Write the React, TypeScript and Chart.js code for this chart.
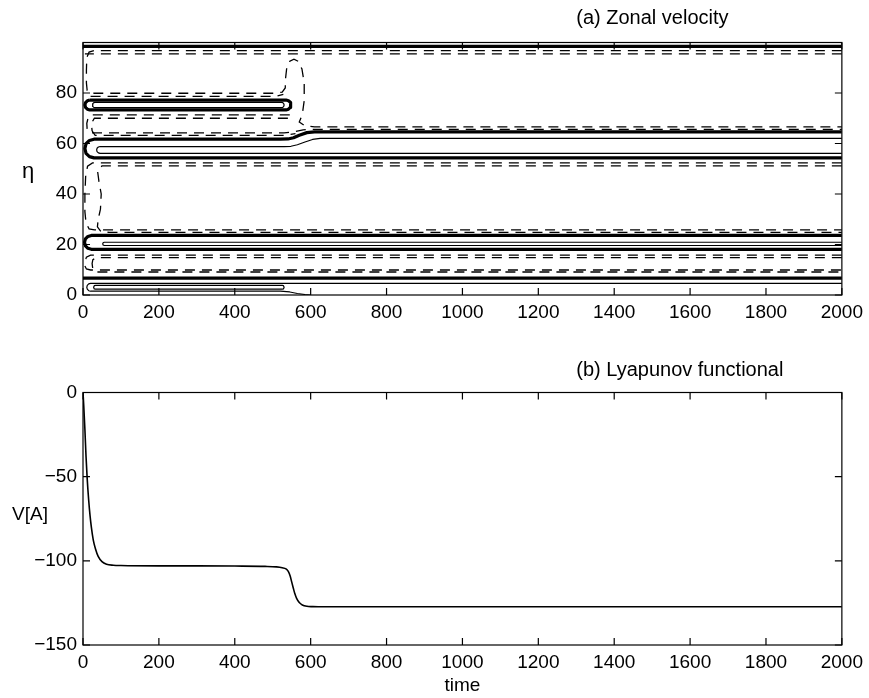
import React, { useEffect, useRef } from "react";
import { Chart, registerables } from "chart.js";

Chart.register(...registerables);

const FONT = '"Liberation Sans", Arial, Helvetica, sans-serif';

// ---------- axis settings ----------
const timeMin = 0;
const timeMax = 2000;
const timeStep = 200;
const etaMin = 0;
const etaMax = 100;
const etaStep = 20;
const etaLastLabel = 80;
const lyapMin = -150;
const lyapMax = 0;
const lyapStep = 50;

// ---------- panel (a): contour lines of zonal velocity, [time, eta] ----------
// thick solid contours
const thickTop = [[0, 98.5], [2000, 98.5]];
const thickLoop75 = [
  [18, 77.2], [11.5, 76.9], [6.7, 76.2], [5, 75.25], [6.7, 74.3], [11.5, 73.6], [18, 73.3],
  [535, 73.3], [541.5, 73.6], [546.3, 74.3], [548, 75.25], [546.3, 76.2], [541.5, 76.9], [535, 77.2], [18, 77.2],
];
const thickU60 = [
  [2000, 64.6], [610, 64.6], [590, 64.3], [570, 63.3], [555, 62.3], [540, 61.8], [520, 61.7],
  [29, 61.7], [17, 61.2], [8, 59.9], [5, 58], [8, 56.1], [17, 54.8], [29, 54.3], [2000, 54.3],
];
const thickU20 = [
  [2000, 23.6], [22, 23.6], [13, 23.2], [6.4, 22.2], [4, 20.85], [6.4, 19.5], [13, 18.5], [22, 18.1], [2000, 18.1],
];
const thickBottom = [[0, 6.7], [2000, 6.7]];

// thin solid contours
const thinLoop75 = [
  [32, 76.3], [28.5, 76.2], [26, 75.8], [25, 75.25], [26, 74.7], [28.5, 74.3], [32, 74.2],
  [523, 74.2], [526.5, 74.3], [529, 74.7], [530, 75.25], [529, 75.8], [526.5, 76.2], [523, 76.3], [32, 76.3],
];
const thinU60 = [
  [2000, 62.0], [625, 62.0], [605, 61.6], [585, 60.6], [565, 59.5], [548, 58.9], [530, 58.8],
  [45, 58.8], [40.5, 58.6], [37, 58.1], [36, 57.45], [37, 56.8], [40.5, 56.3], [45, 56.1], [2000, 56.1],
];
const thinU20 = [[2000, 20.9], [56, 20.9], [53, 20.7], [52, 20.25], [53, 19.8], [56, 19.6], [2000, 19.6]];
const thinBottomOuter = [
  [2000, 4.6], [20, 4.6], [15, 4.4], [11.3, 3.8], [10, 3.05], [11.3, 2.3], [15, 1.7], [20, 1.5],
  [520, 1.5], [545, 1.2], [565, 0.6], [585, 0.2], [600, 0],
];
const thinBottomInner = [
  [33, 3.8], [29.7, 3.7], [28, 3.05], [29.7, 2.4], [33, 2.3], [525, 2.3], [528.3, 2.4], [530, 3.05],
  [528.3, 3.7], [525, 3.8], [33, 3.8],
];

// dashed contours
const dashA = [
  [2000, 96.8], [30, 96.8], [16, 96.2], [10, 94], [9, 89], [9, 84], [11, 81], [18, 80], [30, 79.9],
  [500, 79.9], [525, 80.3], [533, 82], [534, 86], [537, 90], [545, 92.6], [556, 93.4], [568, 92.5],
  [577, 89.5], [583, 84], [583, 77], [578, 71.5], [570, 68.5], [585, 67], [610, 66.6], [2000, 66.6],
];
const dashTop2 = [[2000, 95.5], [5, 95.5]];
const dash787 = [[20, 78.7], [510, 78.7], [528, 79.5]];
const dashC1 = [
  [545, 71.3], [25, 71.3], [14, 70.5], [10, 68], [11, 65.5], [18, 64.3], [30, 64.2], [530, 64.2],
  [555, 64.6], [580, 65.4], [600, 65.6], [2000, 65.6],
];
const dashC2 = [[540, 70], [30, 70], [22, 68], [24, 65], [32, 63.2], [530, 63.2], [560, 63.9]];
const dashD1 = [
  [2000, 52.3], [25, 52.3], [12, 51], [7, 47], [5, 40], [5, 33], [8, 28.5], [16, 26.2], [30, 25.8], [2000, 25.8],
];
const dashD2 = [
  [2000, 51.1], [50, 51.1], [38, 49.5], [42, 45], [48, 40], [46, 34], [40, 30], [38, 27], [48, 25], [70, 24.8], [2000, 24.8],
];
const dashE1 = [
  [2000, 15.8], [20, 15.8], [9, 15], [5, 13], [5, 11.5], [9, 10.3], [20, 9.9], [2000, 9.9],
];
const dashE2 = [[2000, 14.8], [35, 14.8], [26, 14], [24, 12.5], [26, 10], [35, 9.1], [2000, 9.1]];

const thickLines = [thickTop, thickLoop75, thickU60, thickU20, thickBottom];
const thinLines = [thinLoop75, thinU60, thinU20, thinBottomOuter, thinBottomInner];
const dashLines = [dashA, dashTop2, dash787, dashC1, dashC2, dashD1, dashD2, dashE1, dashE2];

// ---------- panel (b): Lyapunov functional ----------
const lyapTime = [
  0, 2, 5, 8, 11, 15, 18.5, 22, 27, 33, 40, 50, 62, 80, 100, 200, 300, 400, 480, 510, 525, 535, 541,
  546, 550, 554, 558, 563, 570, 578, 590, 605, 620, 700, 1000, 1500, 2000,
];
const lyapValue = [
  0, -8, -22, -38, -51, -64, -73, -80, -87.5, -93, -97.4, -100.5, -102, -102.6, -102.8, -103, -103,
  -103.1, -103.3, -103.6, -104.1, -104.8, -106.3, -109, -112.5, -116, -119.3, -122.3, -124.8, -126.2,
  -127, -127.2, -127.3, -127.3, -127.3, -127.3, -127.3,
];

const toXY = (arr: number[][]) => arr.map(([x, y]) => ({ x, y }));

const tickFont = { family: FONT, size: 19 };

const framePlugin = {
  id: "frame",
  afterDatasetsDraw(chart: any) {
    const { ctx, chartArea: a, scales } = chart;
    const xs = scales.x;
    const ys = scales.y;
    const L = 7;
    ctx.save();
    ctx.strokeStyle = "#000";
    ctx.lineWidth = 1.2;
    ctx.strokeRect(a.left, a.top, a.right - a.left, a.bottom - a.top);
    ctx.beginPath();
    xs.ticks.forEach((t: any) => {
      const px = xs.getPixelForValue(t.value);
      ctx.moveTo(px, a.bottom);
      ctx.lineTo(px, a.bottom - L);
      ctx.moveTo(px, a.top);
      ctx.lineTo(px, a.top + L);
    });
    ys.ticks.forEach((t: any) => {
      const py = ys.getPixelForValue(t.value);
      ctx.moveTo(a.left, py);
      ctx.lineTo(a.left + L, py);
      ctx.moveTo(a.right, py);
      ctx.lineTo(a.right - L, py);
    });
    ctx.stroke();
    ctx.restore();
  },
};

const makeLabelPlugin = (
  title: string,
  titleTime: number,
  titleRise: number,
  side: string,
  sideX: number,
  sideValue: number,
  sideSize: number
) => ({
  id: "panelLabels",
  afterDraw(chart: any) {
    const { ctx, chartArea, scales } = chart;
    ctx.save();
    ctx.fillStyle = "#000";
    ctx.font = `20px ${FONT}`;
    ctx.textAlign = "left";
    ctx.textBaseline = "alphabetic";
    ctx.fillText(title, scales.x.getPixelForValue(titleTime), chartArea.top - titleRise);
    ctx.font = `${sideSize}px ${FONT}`;
    ctx.textAlign = "center";
    ctx.fillText(side, sideX, scales.y.getPixelForValue(sideValue));
    ctx.restore();
  },
});

const xScale = (height: number, withTitle: boolean) => ({
  type: "linear" as const,
  min: timeMin,
  max: timeMax,
  grid: { display: false, drawTicks: false },
  border: { display: false },
  ticks: {
    stepSize: timeStep,
    padding: 6,
    color: "#000",
    font: tickFont,
    maxRotation: 0,
    autoSkip: false,
    callback: (v: any) => String(v),
  },
  title: withTitle
    ? { display: true, text: "time", color: "#000", font: { family: FONT, size: 19 }, padding: { top: 0, bottom: 1 } }
    : { display: false },
  afterFit: (s: any) => {
    s.height = height;
  },
});

export default function App() {
  const topRef = useRef<HTMLCanvasElement>(null);
  const botRef = useRef<HTMLCanvasElement>(null);

  useEffect(() => {
    const datasets: any[] = [];
    const base = {
      borderColor: "#000",
      pointRadius: 0,
      fill: false,
      tension: 0,
      borderJoinStyle: "round",
    };
    thickLines.forEach((l) => datasets.push({ ...base, data: toXY(l), borderWidth: 3.2 }));
    thinLines.forEach((l) => datasets.push({ ...base, data: toXY(l), borderWidth: 1.2 }));
    dashLines.forEach((l) =>
      datasets.push({ ...base, data: toXY(l), borderWidth: 1.3, borderDash: [10, 7], borderJoinStyle: "miter" })
    );

    const top = new Chart(topRef.current!, {
      type: "line",
      data: { datasets },
      options: {
        responsive: false,
        animation: false,
        devicePixelRatio: 1,
        parsing: false as any,
        events: [],
        layout: { padding: { top: 42.5, right: 24, left: 0, bottom: 0 } },
        plugins: { legend: { display: false }, title: { display: false }, tooltip: { enabled: false } },
        scales: {
          x: xScale(45, false) as any,
          y: {
            type: "linear",
            min: etaMin,
            max: etaMax,
            grid: { display: false, drawTicks: false },
            border: { display: false },
            ticks: {
              stepSize: etaStep,
              padding: 6,
              color: "#000",
              font: tickFont,
              callback: (v: any) => String(v),
            },
            afterBuildTicks: (s: any) => {
              s.ticks = s.ticks.filter((t: any) => t.value <= etaLastLabel);
            },
            afterFit: (s: any) => {
              s.width = 83;
            },
          } as any,
        },
      },
      plugins: [framePlugin, makeLabelPlugin("(a) Zonal velocity", 1300, 18.5, "η", 28, 46.5, 22)],
    });

    const bot = new Chart(botRef.current!, {
      type: "line",
      data: {
        datasets: [
          {
            data: lyapTime.map((t, i) => ({ x: t, y: lyapValue[i] })),
            borderColor: "#000",
            borderWidth: 1.6,
            pointRadius: 0,
            fill: false,
            tension: 0.3,
            cubicInterpolationMode: "monotone",
          },
        ],
      },
      options: {
        responsive: false,
        animation: false,
        devicePixelRatio: 1,
        parsing: false as any,
        events: [],
        layout: { padding: { top: 52.5, right: 24, left: 0, bottom: 0 } },
        plugins: { legend: { display: false }, title: { display: false }, tooltip: { enabled: false } },
        scales: {
          x: xScale(53, true) as any,
          y: {
            type: "linear",
            min: lyapMin,
            max: lyapMax,
            grid: { display: false, drawTicks: false },
            border: { display: false },
            ticks: {
              stepSize: lyapStep,
              padding: 6,
              color: "#000",
              font: tickFont,
              callback: (v: any) => (v < 0 ? "\u2212" + Math.abs(v) : String(v)),
            },
            afterFit: (s: any) => {
              s.width = 83;
            },
          } as any,
        },
      },
      plugins: [framePlugin, makeLabelPlugin("(b) Lyapunov functional", 1300, 16.5, "V[A]", 30, -76, 19)],
    });

    return () => {
      top.destroy();
      bot.destroy();
    };
  }, []);

  return (
    <div style={{ position: "absolute", left: 0, top: 0, width: 869, height: 698, background: "#fff" }}>
      <canvas ref={topRef} width={869} height={340} style={{ position: "absolute", left: 0, top: 0, display: "block" }} />
      <canvas ref={botRef} width={869} height={358} style={{ position: "absolute", left: 0, top: 340, display: "block" }} />
    </div>
  );
}
